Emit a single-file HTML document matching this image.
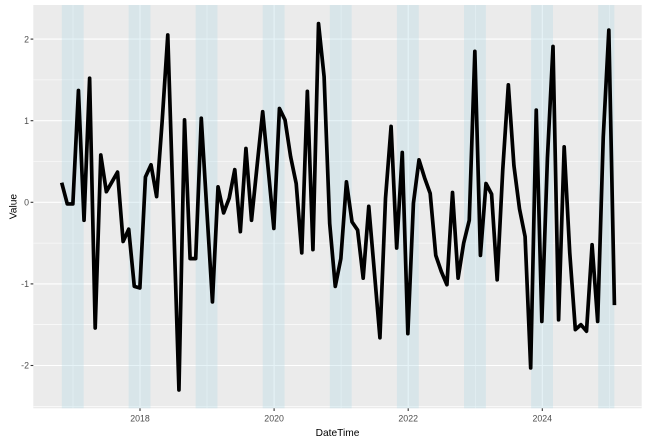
<!DOCTYPE html>
<html>
<head>
<meta charset="utf-8">
<style>
  html, body { margin: 0; padding: 0; background: #ffffff; }
  svg { display: block; }
  text { font-family: "Liberation Sans", Arial, sans-serif; }
</style>
</head>
<body>
<svg width="653" height="447" viewBox="0 0 653 447" xmlns="http://www.w3.org/2000/svg">
  <rect x="0" y="0" width="653" height="447" fill="#ffffff"/>
  <!-- panel -->
  <rect x="33.3" y="5" width="608.4" height="403.3" fill="#EBEBEB"/>
  <!-- minor gridlines -->
  <g stroke="#ffffff" stroke-width="0.55" fill="none">
    <line x1="33.3" x2="641.7" y1="406.3" y2="406.3"/>
    <line x1="33.3" x2="641.7" y1="324.7" y2="324.7"/>
    <line x1="33.3" x2="641.7" y1="243.1" y2="243.1"/>
    <line x1="33.3" x2="641.7" y1="161.5" y2="161.5"/>
    <line x1="33.3" x2="641.7" y1="79.9" y2="79.9"/>
    <line y1="5" y2="408.3" x1="73" x2="73"/>
    <line y1="5" y2="408.3" x1="207" x2="207"/>
    <line y1="5" y2="408.3" x1="341.1" x2="341.1"/>
    <line y1="5" y2="408.3" x1="475.3" x2="475.3"/>
    <line y1="5" y2="408.3" x1="609.4" x2="609.4"/>
  </g>
  <!-- major gridlines -->
  <g stroke="#ffffff" stroke-width="1.1" fill="none">
    <line x1="33.3" x2="641.7" y1="365.5" y2="365.5"/>
    <line x1="33.3" x2="641.7" y1="283.9" y2="283.9"/>
    <line x1="33.3" x2="641.7" y1="202.3" y2="202.3"/>
    <line x1="33.3" x2="641.7" y1="120.7" y2="120.7"/>
    <line x1="33.3" x2="641.7" y1="39.1" y2="39.1"/>
    <line y1="5" y2="408.3" x1="140" x2="140"/>
    <line y1="5" y2="408.3" x1="274.1" x2="274.1"/>
    <line y1="5" y2="408.3" x1="408.2" x2="408.2"/>
    <line y1="5" y2="408.3" x1="542.3" x2="542.3"/>
  </g>
  <!-- shaded bands -->
  <g fill="rgb(173,216,230)" fill-opacity="0.3">
    <rect x="61.8" y="5" width="21.9" height="403.3"/>
    <rect x="128.6" y="5" width="21.9" height="403.3"/>
    <rect x="195.6" y="5" width="21.9" height="403.3"/>
    <rect x="262.7" y="5" width="21.9" height="403.3"/>
    <rect x="329.8" y="5" width="21.9" height="403.3"/>
    <rect x="396.9" y="5" width="21.9" height="403.3"/>
    <rect x="464.0" y="5" width="21.9" height="403.3"/>
    <rect x="531.1" y="5" width="21.9" height="403.3"/>
    <rect x="598.2" y="5" width="16.2" height="403.3"/>
  </g>
  <!-- data line -->
  <g transform="translate(61.7,202.3) scale(5.583,-81.6)">
    <polyline fill="none" stroke="#000000" stroke-width="3.7" stroke-linejoin="round" stroke-linecap="butt" vector-effect="non-scaling-stroke"
      points="0,0.24 1,-0.02 2,-0.02 3,1.37 4,-0.22 5,1.52 6,-1.54 7,0.58 8,0.13 9,0.25 10,0.37 11,-0.48 12,-0.33 13,-1.03 14,-1.05 15,0.31 16,0.46 17,0.07 18,1.0 19,2.05 20,-0.12 21,-2.30 22,1.01 23,-0.69 24,-0.69 25,1.03 26,-0.1 27,-1.22 28,0.19 29,-0.13 30,0.05 31,0.40 32,-0.36 33,0.66 34,-0.22 35,0.45 36,1.11 37,0.4 38,-0.32 39,1.15 40,1.01 41,0.56 42,0.23 43,-0.62 44,1.36 45,-0.58 46,2.19 47,1.54 48,-0.26 49,-1.03 50,-0.69 51,0.25 52,-0.24 53,-0.34 54,-0.93 55,-0.05 56,-0.85 57,-1.66 58,0.05 59,0.93 60,-0.56 61,0.61 62,-1.61 63,-0.01 64,0.52 65,0.3 66,0.11 67,-0.65 68,-0.85 69,-1.01 70,0.12 71,-0.93 72,-0.5 73,-0.22 74,1.85 75,-0.65 76,0.23 77,0.1 78,-0.95 79,0.4 80,1.44 81,0.45 82,-0.08 83,-0.42 84,-2.03 85,1.13 86,-1.46 87,0.54 88,1.91 89,-1.44 90,0.68 91,-0.62 92,-1.56 93,-1.50 94,-1.58 95,-0.52 96,-1.46 97,0.8 98,2.11 99,-1.26"/>
  </g>
  <!-- axis ticks -->
  <g stroke="#333333" stroke-width="1.1">
    <line x1="30.6" x2="33.3" y1="365.5" y2="365.5"/>
    <line x1="30.6" x2="33.3" y1="283.9" y2="283.9"/>
    <line x1="30.6" x2="33.3" y1="202.3" y2="202.3"/>
    <line x1="30.6" x2="33.3" y1="120.7" y2="120.7"/>
    <line x1="30.6" x2="33.3" y1="39.1" y2="39.1"/>
    <line y1="408.3" y2="411" x1="140" x2="140"/>
    <line y1="408.3" y2="411" x1="274.1" x2="274.1"/>
    <line y1="408.3" y2="411" x1="408.2" x2="408.2"/>
    <line y1="408.3" y2="411" x1="542.3" x2="542.3"/>
  </g>
  <!-- y tick labels -->
  <g fill="#4D4D4D" font-size="8.8" text-anchor="end">
    <text x="29" y="368.7">-2</text>
    <text x="29" y="287.1">-1</text>
    <text x="29" y="205.5">0</text>
    <text x="29" y="123.9">1</text>
    <text x="29" y="42.3">2</text>
  </g>
  <!-- x tick labels -->
  <g fill="#4D4D4D" font-size="8.8" text-anchor="middle">
    <text x="140" y="421.3">2018</text>
    <text x="274.1" y="421.3">2020</text>
    <text x="408.2" y="421.3">2022</text>
    <text x="542.3" y="421.3">2024</text>
  </g>
  <!-- axis titles -->
  <text x="337.5" y="436" fill="#000000" font-size="10.2" text-anchor="middle">DateTime</text>
  <text transform="translate(16.5,206.6) rotate(-90)" fill="#000000" font-size="10.2" text-anchor="middle">Value</text>
</svg>
</body>
</html>
